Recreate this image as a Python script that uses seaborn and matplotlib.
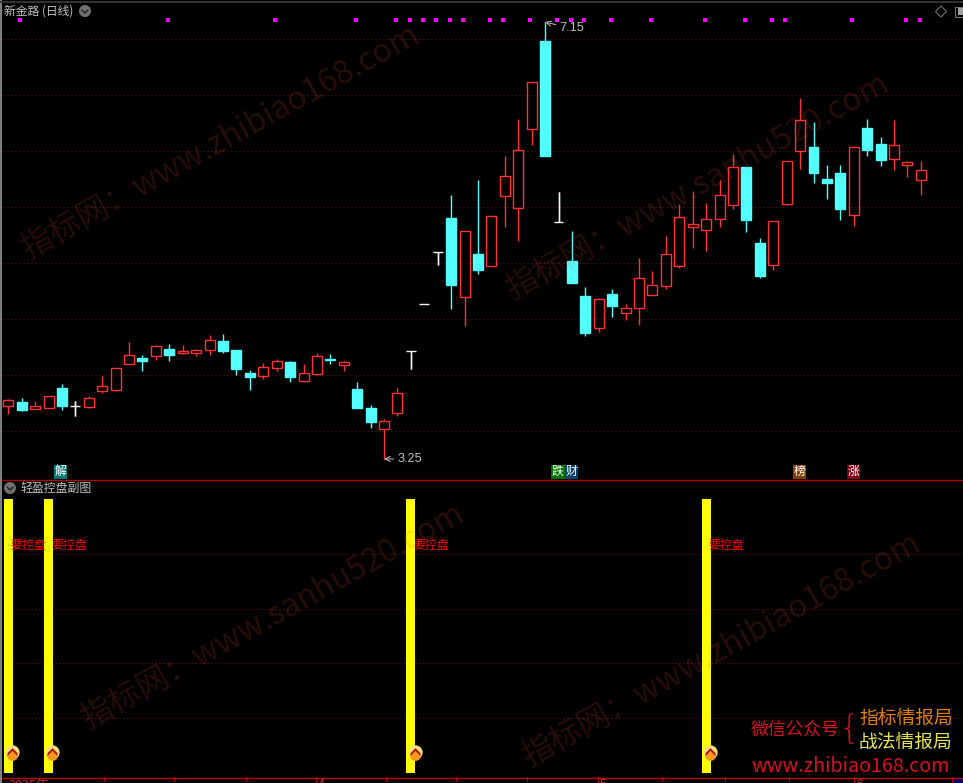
import numpy as np
import pandas as pd
import seaborn as sns
import matplotlib
matplotlib.use("Agg")
import matplotlib.pyplot as plt
from matplotlib.patches import Rectangle, Circle, Polygon
from matplotlib.path import Path

opens = [3.726,3.759,3.699,3.708,3.884,3.720,3.717,3.860,3.869,4.101,4.152,4.173,4.232,4.199,4.199,4.226,4.304,4.223,4.018,3.994,
         4.062,4.116,3.949,4.012,4.143,4.092,3.875,3.705,3.521,3.664,4.211,4.631,5.095,5.402,4.699,5.080,4.976,5.601,5.494,6.199,
         6.982,5.363,5.018,4.705,4.423,4.723,4.556,4.601,4.717,4.798,4.976,5.318,5.298,5.396,5.521,5.854,5.179,4.985,5.530,6.003,
         6.036,5.750,5.803,5.431,6.205,6.062,5.931,5.878,5.744]
closes = [3.774,3.688,3.720,3.810,3.723,3.720,3.792,3.899,4.059,4.176,4.125,4.256,4.179,4.214,4.220,4.309,4.214,4.054,3.982,4.068,
          4.122,3.982,4.015,4.167,4.137,4.113,3.705,3.580,3.586,3.836,4.211,4.631,5.095,4.803,5.283,4.937,5.417,5.774,6.006,6.613,
          5.955,5.363,4.821,4.375,4.676,4.616,4.595,4.863,4.801,5.077,5.408,5.345,5.390,5.604,5.854,5.384,4.884,5.372,5.908,6.274,
          5.803,5.714,5.482,6.033,6.009,5.920,6.050,5.899,5.827]
highs = [3.786,3.792,3.768,3.810,3.920,3.768,3.812,3.991,4.059,4.295,4.176,4.268,4.277,4.268,4.232,4.357,4.366,4.223,4.045,4.107,
         4.143,4.125,4.098,4.196,4.187,4.125,3.937,3.732,3.607,3.884,4.211,4.631,5.095,5.607,5.283,5.741,5.417,5.955,6.286,6.613,
         7.15,5.634,5.286,4.786,4.684,4.768,4.634,5.045,4.928,5.241,5.527,5.643,5.536,5.741,5.973,5.854,5.223,5.372,5.908,6.473,
         6.259,5.875,5.875,6.033,6.286,6.125,6.277,5.911,5.911]
lows = [3.655,3.679,3.699,3.708,3.688,3.634,3.705,3.842,3.857,4.101,4.036,4.134,4.125,4.187,4.170,4.179,4.196,4.000,3.866,3.964,
        4.036,3.937,3.937,4.000,4.098,4.036,3.705,3.527,3.25,3.634,4.054,4.631,4.982,4.589,4.440,4.902,4.976,5.321,5.196,6.053,
        5.955,5.363,4.821,4.351,4.387,4.518,4.491,4.446,4.717,4.768,4.955,5.134,5.107,5.321,5.482,5.277,4.866,4.937,5.518,5.839,
        5.714,5.571,5.384,5.330,5.955,5.866,5.830,5.768,5.607]

dot_days = [1,12,20,26,29,30,31,32,33,34,36,37,39,41,42,43,45,48,52,55,57,58,63,67,68]
price_grid = [3.5,4.0,4.5,5.0,5.5,6.0,6.5,7.0]

control_days = [0,3,30,52]
control_vals = [1,1,1,1]
control_label = "要控盘"
sub_grid = [0.2,0.4,0.6,0.8]

RED = "#ff3232"
CYAN = "#54ffff"
WHITE = "#f4f4f4"
GREY = "#c0c0c0"

sns.set_theme(style="dark", rc={"figure.facecolor":"black","axes.facecolor":"black","savefig.facecolor":"black"})
plt.rcParams['font.family'] = ['Noto Sans CJK SC', 'DejaVu Sans']

df = pd.DataFrame({"o":opens,"h":highs,"l":lows,"c":closes})
df["day"] = df.index
df["top"] = df[["o","c"]].max(axis=1)
df["bot"] = df[["o","c"]].min(axis=1)
df["span"] = df["top"] - df["bot"]
all_days = list(df["day"])
up = df[df.c > df.o]
down = df[df.c < df.o]
flat = df[df.c == df.o]

fig = plt.figure(figsize=(9.63,7.83), dpi=100)
W, H = 963.0, 783.0
# candle panel y=2..479, signal panel y=479..777 (pixels from top)
ax = fig.add_axes([2/W, 1-479/H, 961/W, 477/H])
ax2 = fig.add_axes([2/W, 1-777/H, 961/W, 298/H])
px = 0.72

ax.hlines(price_grid, -1, 80, color="#6a1616", lw=px, linestyles=[(0,(1,3))], zorder=1)
for part, col in [(up,RED),(down,CYAN),(flat,WHITE)]:
    ax.vlines(part.day, part.top, part.h, color=col, lw=1.0, zorder=2)
    ax.vlines(part.day, part.l, part.bot, color=col, lw=1.0, zorder=2)
ax.vlines(flat.day, flat.l, flat.h, color=WHITE, lw=1.0, zorder=2)
ax.hlines(flat.o, flat.day-0.37, flat.day+0.37, color=WHITE, lw=1.0, zorder=2)

sns.barplot(x=up.day, y=up.span, bottom=up.bot, order=all_days, ax=ax, fill=False, color=RED,
            saturation=1, width=0.745, linewidth=1.0, zorder=3)
sns.barplot(x=down.day, y=down.span, bottom=down.bot, order=all_days, ax=ax, color=CYAN,
            saturation=1, width=0.745, edgecolor=CYAN, linewidth=1.0, zorder=3)
sns.scatterplot(x=np.array(dot_days)-0.1, y=[7.17]*len(dot_days), ax=ax, marker="s", color="#ff00ff",
                s=11, linewidth=0, zorder=4)
ax.set_xlim(-0.469, 71.14)
ax.set_ylim(3.0714, 7.330)

low_i = int(np.argmin(lows))
high_i = int(np.argmax(highs))
ax.annotate("3.25", (low_i, lows[low_i]), xytext=(13,0), textcoords="offset pixels", color=GREY,
            fontsize=9.2, va="center", family="Liberation Sans",
            arrowprops=dict(arrowstyle="->", color=GREY, lw=0.7, shrinkA=0, shrinkB=0))
ax.annotate("7.15", (high_i, highs[high_i]), xytext=(14,-6), textcoords="offset pixels", color=GREY,
            fontsize=9.2, va="center", family="Liberation Sans",
            arrowprops=dict(arrowstyle="->", color=GREY, lw=0.7, shrinkA=0, shrinkB=0))

ax2.hlines(sub_grid, -1, 80, color="#8a1010", lw=px, linestyles=[(0,(1,3))], zorder=1)
sns.barplot(x=control_days, y=control_vals, order=all_days, ax=ax2, color="#ffff00", saturation=1,
            width=0.67, linewidth=0, zorder=2)
ax2.set_xlim(-0.469, 71.14)
ax2.set_ylim(-0.0146, 1.073)

chevron = Path([(-1,-0.5),(0,0.55),(1,-0.5),(1,0.05),(0,1.1),(-1,0.05),(-1,-0.5)], closed=True)
icon_x = np.array(control_days) + 0.27
ax2.scatter(icon_x, [0.077]*4, s=105, color="#fbe27a", zorder=4, linewidth=0)
ax2.scatter(icon_x, [0.066]*4, s=60, color="#f59a1f", zorder=5, linewidth=0)
ax2.scatter(icon_x, [0.074]*4, s=60, marker=chevron, color="#b01010", zorder=6, linewidth=0)
for d in control_days:
    ax2.annotate(control_label, (d, 0.832), xytext=(2.5,0), textcoords="offset pixels", color="#ff0000",
                 fontsize=8.6, va="center", zorder=7)

for a in (ax, ax2):
    a.set_xticks([]); a.set_yticks([])
    a.set_xlabel(""); a.set_ylabel("")
    for s in a.spines.values():
        s.set_visible(False)

# window chrome, in pixels
ch = fig.add_axes([0,0,1,1], zorder=5)
ch.set_xlim(0,W); ch.set_ylim(H,0); ch.axis("off"); ch.patch.set_alpha(0)
ch.add_patch(Rectangle((0,0),2,H,color="#808080",lw=0))
ch.plot([0,W],[1.5,1.5],color="#333333",lw=1.4)
ch.plot([2,W],[479.5,479.5],color="#b00000",lw=1.0)
ch.plot([2,W],[777.5,777.5],color="#c00000",lw=1.0)
for x,n in [(104,4),(174,4),(246,4),(316,7),(386,4),(456,4),(527,4),(598,7),(662,4),(725,4),(789,4),(854,7),(952,7)]:
    ch.plot([x,x],[777,777+n],color="#c00000",lw=px)
ch.add_patch(Rectangle((953,778),10,5,color="#000080",lw=0))
for t,x in [("2025年",8),("4",318),("5",600),("6",856)]:
    ch.text(x,778.5,t,color="#d03030",fontsize=9,va="top",ha="left",family="Liberation Sans" if t!="2025年" else None)

ch.text(4,11,"新金路 (日线)",color=GREY,fontsize=8.5,va="center")
ch.text(20,488,"轻盈控盘副图",color=GREY,fontsize=8.6,va="center")
for cx,cy in [(85,11),(10,488)]:
    ch.add_patch(Circle((cx,cy),6,color="#707070",lw=0))
    ch.plot([cx-3,cx,cx+3],[cy-1,cy+2,cy-1],color="#202020",lw=1.0)
ch.add_patch(Polygon([(941,6),(946.5,11.5),(941,17),(935.5,11.5)],fill=False,ec="#707070",lw=0.8))
ch.add_patch(Rectangle((954.5,6.5),12,10,fill=False,ec="#707070",lw=0.8))
ch.add_patch(Rectangle((958,8),5,7,color="#a0a0a0",lw=0))

for t,x0,x1,bg in [("解",54,67,"#007878"),("跌",551,565,"#007000"),("财",565,578,"#004070"),
                   ("榜",793,806,"#804000"),("涨",847,860,"#800010")]:
    ch.add_patch(Rectangle((x0,465),x1-x0,13.5,color=bg,lw=0))
    ch.text((x0+x1)/2,471.5,t,color="white",fontsize=8.6,ha="center",va="center")

for t,cx,cy in [("指标网：www.zhibiao168.com",220,142),("指标网：www.sanhu520.com",697,187),
                ("指标网：www.sanhu520.com",272,617),("指标网：www.zhibiao168.com",721,650)]:
    ch.text(cx,cy,t,color="#ff5030",alpha=0.16,fontsize=23,rotation=29,ha="center",va="center",rotation_mode="anchor",zorder=1)

ch.text(751,730,"微信公众号",color="#d81020",fontsize=12.8,va="center")
ch.text(849,729,"{",color="#d81020",fontsize=24,va="center",ha="center",family="DejaVu Sans",fontweight="light")
ch.text(859,718,"指标情报局",color="#e08000",fontsize=13.5,va="center")
ch.text(859,742,"战法情报局",color="#e6e650",fontsize=13.5,va="center")
ch.text(751,766,"www.zhibiao168.com",color="#d81020",fontsize=14.2,va="center")

fig.savefig("out.png", dpi=100)
